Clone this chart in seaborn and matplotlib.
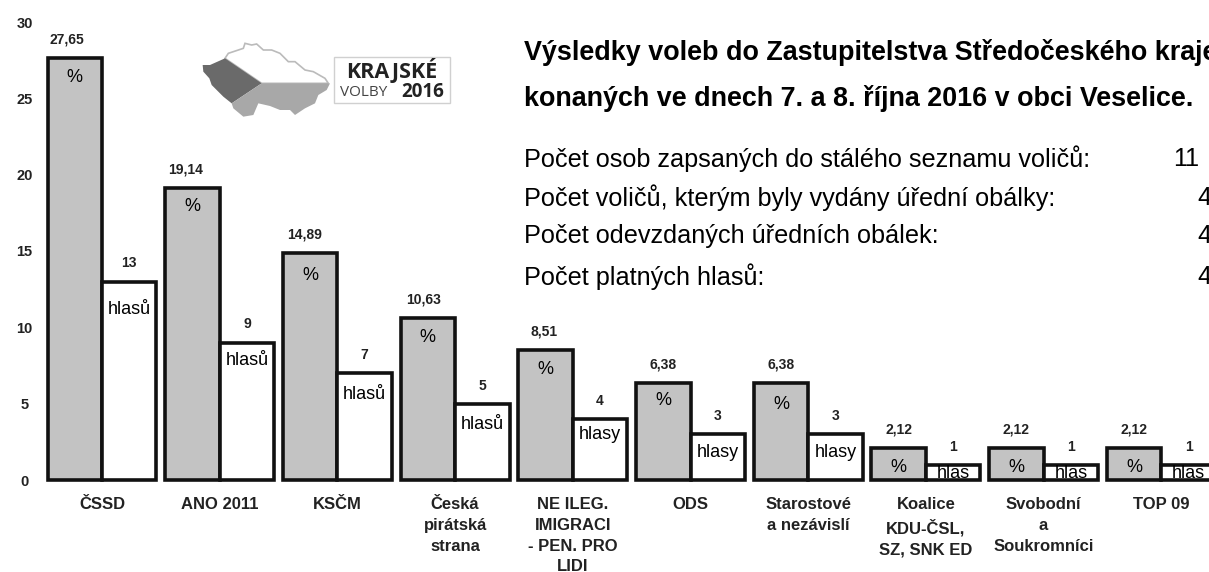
import pandas as pd
import seaborn as sns
import matplotlib.pyplot as plt
from matplotlib.patches import Polygon, Rectangle

# chart values
parties = ["ČSSD", "ANO 2011", "KSČM", "Česká\npirátská\nstrana", "NE ILEG.\nIMIGRACI\n- PEN. PRO\nLIDI",
           "ODS", "Starostové\na nezávislí", "Koalice\nKDU-ČSL,\nSZ, SNK ED", "Svobodní\na\nSoukromníci", "TOP 09"]
percent = [27.65, 19.14, 14.89, 10.63, 8.51, 6.38, 6.38, 2.12, 2.12, 2.12]
votes = [13, 9, 7, 5, 4, 3, 3, 1, 1, 1]
vote_words = ["hlasů", "hlasů", "hlasů", "hlasů", "hlasy", "hlasy", "hlasy", "hlas", "hlas", "hlas"]
y_ticks = [0, 5, 10, 15, 20, 25, 30]

title_lines = ["Výsledky voleb do Zastupitelstva Středočeského kraje",
               "konaných ve dnech 7. a 8. října 2016 v obci Veselice."]
info_rows = ["Počet osob zapsaných do stálého seznamu voličů:",
             "Počet voličů, kterým byly vydány úřední obálky:",
             "Počet odevzdaných úředních obálek:",
             "Počet platných hlasů:"]
info_values = ["11", "4", "4", "4"]

# the labels were placed by hand in the original, so nudge them per bar (points)
pct_label_dx = [-6, -5, -4, -3, -1, 0, 0, 0, 0, 0]
pct_word_dy = [-8, -7, -10, -8, -8, -7, -10, -8, -8, -8]
vote_word_dy = [-14, -7, -9, -9, -5, -7, -7, 0, 0, 0]

df = pd.DataFrame({
    "party": parties * 2,
    "value": percent + votes,
    "kind": ["pct"] * 10 + ["votes"] * 10,
})

sns.set_style("white")
plt.rcParams["font.family"] = ["Liberation Sans", "DejaVu Sans"]

W, H = 1209, 572
fig = plt.figure(figsize=(W / 100, H / 100), dpi=100)
ax = fig.add_axes([44 / W, (H - 480) / H, 1 - 44 / W, (480 - 22) / H])

sns.barplot(data=df, x="party", y="value", hue="kind", hue_order=["pct", "votes"],
            palette=["#c3c3c3", "white"], edgecolor="#111111", linewidth=2.6,
            width=0.926, legend=False, ax=ax)

ax.set_ylim(0, 30)
ax.set_xlim((44 - 102) / 117.7, (1209 - 102) / 117.7)
ax.set_yticks(y_ticks)
ax.set_xlabel("")
ax.set_ylabel("")
sns.despine(ax=ax, left=True, bottom=True, right=True, top=True)
ax.tick_params(axis="y", length=0, pad=14)
ax.tick_params(axis="x", length=0, pad=12.5)
for lab in ax.get_yticklabels():
    lab.set_fontweight("bold")
    lab.set_fontsize(10.5)
    lab.set_color("#222222")
    lab.set_ha("center")
for lab in ax.get_xticklabels():
    lab.set_fontweight("bold")
    lab.set_fontsize(12)
    lab.set_color("#222222")
    lab.set_linespacing(1.47)
    lab.set_va("top")

# value labels above and unit labels inside each bar
for i, cont in enumerate(ax.containers):
    for j, bar in enumerate(cont):
        bar.set_clip_on(False)
        cx = bar.get_x() + bar.get_width() / 2
        top = bar.get_height()
        if i == 0:
            above, dx = f"{percent[j]:.2f}".replace(".", ","), pct_label_dx[j]
            inside, dy = "%", pct_word_dy[j]
        else:
            above, dx = str(votes[j]), 0
            inside, dy = vote_words[j], vote_word_dy[j]
        ax.annotate(above, (cx, top), xytext=(dx, 8), textcoords="offset points",
                    ha="center", va="bottom", fontsize=10, fontweight="bold", color="#222222")
        ax.annotate(inside, (cx, top), xytext=(0, dy), textcoords="offset points",
                    ha="center", va="top", fontsize=13, color="black")

# overlay in pixel coordinates for the text block and logo
ov = fig.add_axes([0, 0, 1, 1], facecolor="none")
ov.set_xlim(0, W)
ov.set_ylim(H, 0)
ov.axis("off")

for y, line in zip([53, 99], title_lines):
    ov.text(524, y, line, fontsize=19.4, fontweight="bold", va="center", color="black")
for y, row, val in zip([159, 198, 236, 277], info_rows, info_values):
    ov.text(524, y, row, fontsize=18.2, va="center", color="black")
    ov.text(1173 if val == "11" else 1197, y, val, fontsize=18.2, va="center", color="black")

# logo: map outline from the krajske volby badge
def logo_pts(pts):
    return [(180 + x / 3, 20 + y / 3) for x, y in pts]

ov.add_patch(Polygon(logo_pts([(135, 115), (145, 100), (190, 85), (195, 70), (215, 75), (230, 72), (250, 90),
                               (275, 90), (300, 100), (325, 125), (345, 125), (375, 150), (400, 155), (435, 175),
                               (445, 190), (245, 190)]), fc="white", ec="#bbbbbb", lw=1.2))
ov.add_patch(Polygon(logo_pts([(135, 115), (245, 190), (155, 250), (130, 230), (95, 195), (88, 175), (70, 155),
                               (68, 135), (90, 135)]), fc="#6a6a6a", ec="none"))
ov.add_patch(Polygon(logo_pts([(245, 190), (450, 190), (440, 210), (415, 225), (405, 250), (375, 265), (345, 285),
                               (330, 270), (300, 270), (270, 258), (235, 250), (220, 285), (190, 290), (160, 265),
                               (155, 250)]), fc="#a8a8a8", ec="none"))
ov.add_patch(Rectangle((333.5, 57), 116, 46, fc="white", ec="#d0d0d0", lw=1))
ov.text(391.5, 70.5, "KRAJSKÉ", fontsize=15.5, fontweight="bold", ha="center", va="center", color="#222222",
        family=["Open Sans", "DejaVu Sans"])
ov.text(340, 92, "VOLBY", fontsize=11, ha="left", va="center", color="#444444", family=["Open Sans", "DejaVu Sans"])
ov.text(444, 92, "2016", fontsize=13.5, fontweight="bold", ha="right", va="center", color="#222222",
        family=["Open Sans", "DejaVu Sans"])

fig.savefig("out.png", dpi=100)
